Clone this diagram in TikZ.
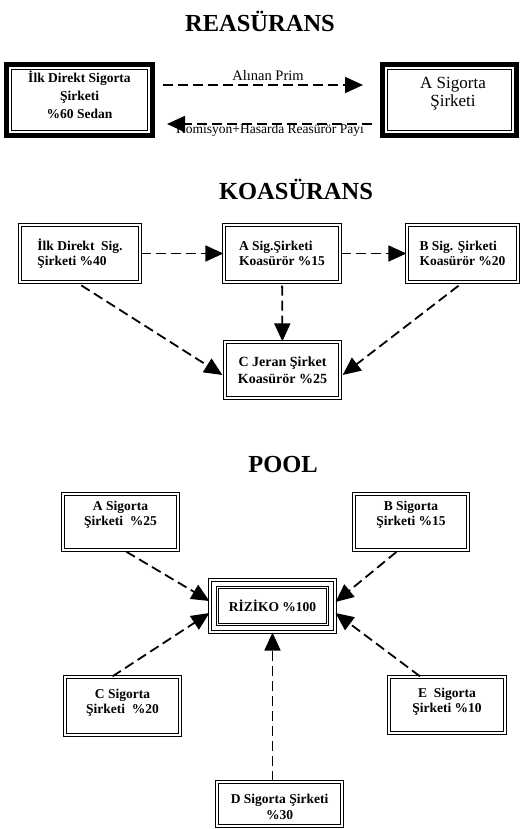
\documentclass[tikz,border=0pt]{standalone}
\usepackage{fontspec}
\setmainfont{Liberation Serif}
\usetikzlibrary{arrows.meta}
\begin{document}
\begin{tikzpicture}[x=1pt,y=-1pt,
  heading/.style={font=\bfseries\fontsize{24.5}{28}\selectfont},
  boxtext/.style={font=\bfseries\fontsize{13.5}{15.5}\selectfont, align=center, inner sep=0pt},
  framed/.style={draw, line width=1.3pt, double, double distance=1.6pt, inner sep=2pt},
  dblline/.style={draw, line width=1.2pt, double, double distance=1.6pt},
  thickframe/.style={draw, line width=4pt, inner sep=2pt},
  flow/.style={line width=1.8pt, dash pattern=on 10pt off 5pt,
    -{Triangle[length=18pt,width=16pt]}},
  lbl/.style={inner sep=0pt},
]
\useasboundingbox (0,0) rectangle (521,829);

% ---------------- REASÜRANS ----------------
\node[heading] (t1) at (260,21) {REASÜRANS};

\node[thickframe, minimum width=147pt, minimum height=72pt] (r1) at (79.5,100) {};
\draw[dblline] ([shift={(6,6)}]r1.north west) rectangle ([shift={(-6,-6)}]r1.south east);
\node[boxtext, font=\bfseries\fontsize{13.5}{18}\selectfont] (r1t) at (79.5,94.5)
  {İlk Direkt Sigorta\\Şirketi\\\%60 Sedan};

\node[thickframe, minimum width=135pt, minimum height=72pt] (r2) at (449.5,100) {};
\draw[dblline] ([shift={(6,6)}]r2.north west) rectangle ([shift={(-6,-6)}]r2.south east);
\node[boxtext, font=\fontsize{17}{18}\selectfont] (r2t) at (453,94) {A Sigorta\\Şirketi};

\draw[flow, shorten <=8pt, shorten >=17pt]
  ([shift={(0,-15)}]r1.east) -- ([shift={(0,-15)}]r2.west);
\node[lbl, font=\fontsize{14.5}{16}\selectfont] (l1) at (268,76) {Alınan Prim};

\draw[flow, shorten <=8pt, shorten >=12pt]
  ([shift={(0,24)}]r2.west) -- ([shift={(0,24)}]r1.east);
\node[lbl, font=\fontsize{13.5}{15}\selectfont] (l2) at (270,130)
  {Komisyon+Hasarda Reasürör Payı};

% ---------------- KOASÜRANS ----------------
\node[heading] (t2) at (296,189) {KOASÜRANS};

\node[framed, boxtext, align=left, font=\bfseries\fontsize{13.5}{14.5}\selectfont,
      minimum width=120pt, minimum height=57pt] (k1)
  at (80,253.5) {İlk Direkt\ \ Sig.\\Şirketi \%40};
\node[framed, boxtext, align=left, font=\bfseries\fontsize{13.5}{14.5}\selectfont,
      minimum width=116pt, minimum height=57pt] (k2)
  at (282,253.5) {A Sig.Şirketi\\Koasürör \%15};
\node[framed, boxtext, align=left, font=\bfseries\fontsize{13.5}{14.5}\selectfont,
      minimum width=111pt, minimum height=57pt] (k3)
  at (462.5,253.5) {B Sig. Şirketi\\Koasürör \%20};
\node[framed, boxtext, font=\bfseries\fontsize{14}{17}\selectfont,
      minimum width=115pt, minimum height=56pt] (k4)
  at (282.5,370) {C Jeran Şirket\\Koasürör \%25};

\draw[flow] (k1) -- (k2);
\draw[flow] (k2) -- (k3);
\draw[flow, shorten <=3pt] (k2) -- (k4);
\draw[flow, shorten <=5pt] ([shift={(-3,0)}]k1.south) -- ([shift={(-2,5)}]k4.west);
\draw[flow, shorten <=5pt] (k3.south) -- ([shift={(2,5)}]k4.east);

% ---------------- POOL ----------------
\node[heading] (t3) at (283,465) {POOL};

\node[framed, minimum width=115pt, minimum height=56pt] (pA) at (120.5,522) {};
\node[boxtext] (pAt) at (120.5,514.5) {A Sigorta\\Şirketi\ \ \%25};
\node[framed, minimum width=114pt, minimum height=56pt] (pB) at (411,522) {};
\node[boxtext] (pBt) at (411,514.5) {B Sigorta\\Şirketi \%15};

\node[draw, line width=1.1pt, double, double distance=1.5pt, boxtext,
      minimum width=125pt, minimum height=52pt] (R) at (272.5,606) {RİZİKO \%100};
\draw[dblline, line width=1.1pt, double distance=1.4pt]
  ([shift={(8,8)}]R.north west) rectangle ([shift={(-8,-8)}]R.south east);

\node[framed, minimum width=115pt, minimum height=58pt] (pC) at (122.5,706) {};
\node[boxtext] (pCt) at (122.5,702.5) {C Sigorta\\Şirketi\ \ \%20};
\node[framed, minimum width=116pt, minimum height=56pt] (pE) at (447,705) {};
\node[boxtext] (pEt) at (447,701.5) {E\ \ Sigorta\\Şirketi \%10};
\node[framed, minimum width=125pt, minimum height=44pt] (pD) at (279.5,804) {};
\node[boxtext, font=\bfseries\fontsize{13.5}{16}\selectfont] (pDt) at (279.5,807)
  {D Sigorta Şirketi\\\%30};

\draw[flow, shorten <=2pt] ([shift={(4,0)}]pA.south) -- ([shift={(0,-5)}]R.west);
\draw[flow, shorten <=2pt] ([shift={(-13,0)}]pB.south) -- ([shift={(0,-4)}]R.east);
\draw[flow] ([shift={(-10,0)}]pC.north) -- ([shift={(0,7)}]R.west);
\draw[flow] ([shift={(-27,0)}]pE.north) -- ([shift={(0,7)}]R.east);
\draw[flow] (R.south |- pD.north) -- (R.south);
\end{tikzpicture}
\end{document}
